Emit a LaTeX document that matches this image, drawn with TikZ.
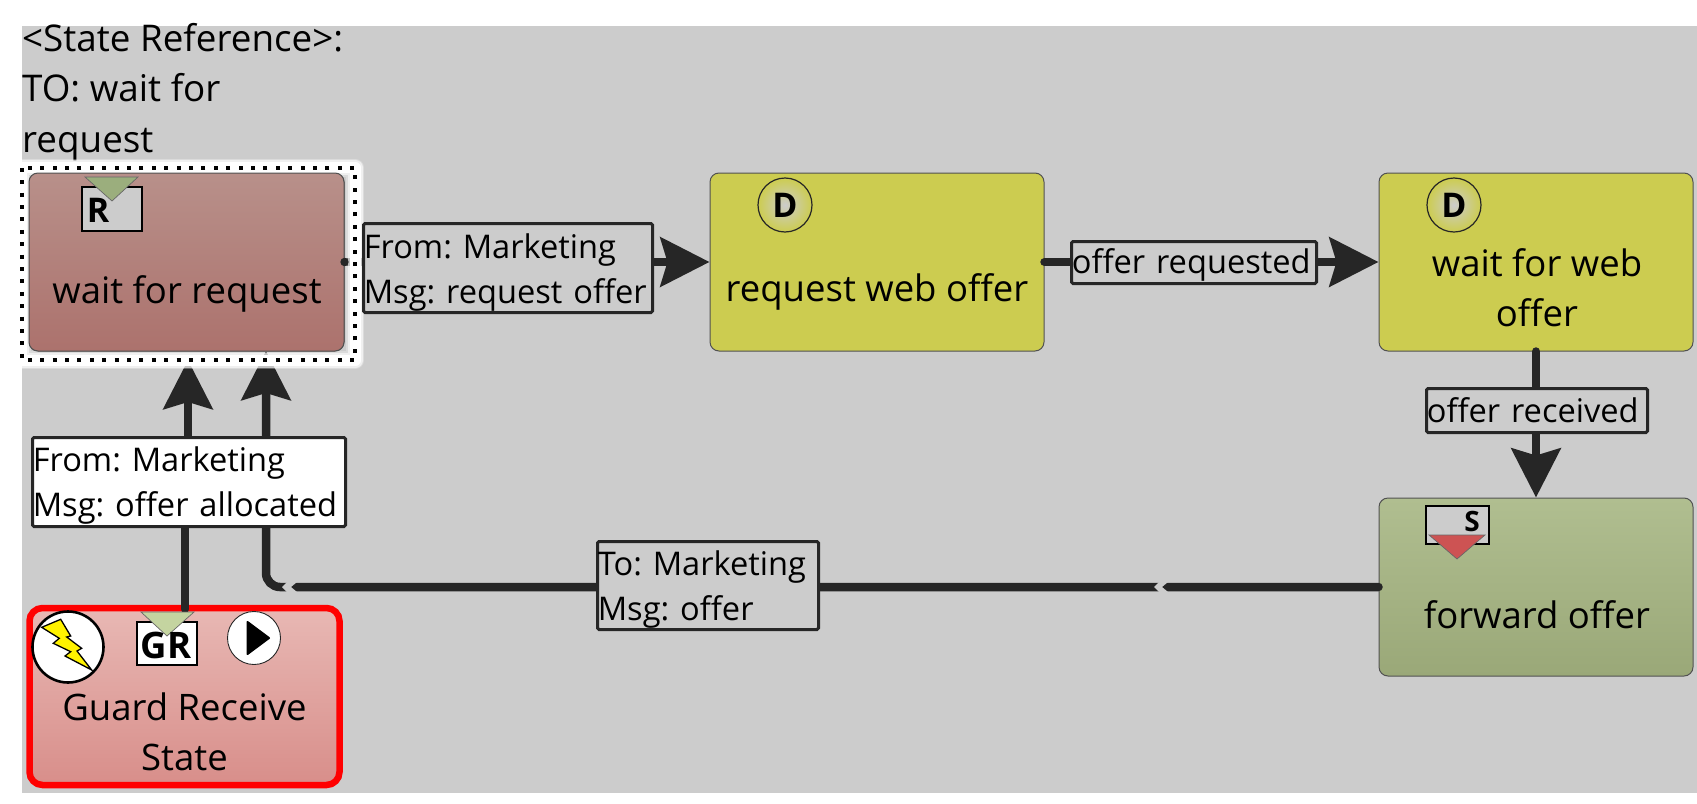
\documentclass[tikz,border=0pt]{standalone}
\usepackage{fontspec}
\setmainfont{Open Sans}
\usetikzlibrary{arrows.meta}
\frenchspacing
\definecolor{ink}{HTML}{262626}
\definecolor{bggrey}{HTML}{CCCCCC}
\definecolor{yel}{HTML}{CCCC50}
\definecolor{waitT}{HTML}{B8908A}
\definecolor{waitB}{HTML}{AC726D}
\definecolor{fwdT}{HTML}{B0BE90}
\definecolor{fwdB}{HTML}{9AA878}
\definecolor{grdT}{HTML}{E8B8B4}
\definecolor{grdB}{HTML}{D88E8A}
\definecolor{triG}{HTML}{9BAE7D}
\definecolor{triL}{HTML}{C4D4A0}
\definecolor{triR}{HTML}{CD5353}
\newcommand{\lift}[1]{\rule{0pt}{#1pt}}
\newcommand{\lline}[1]{\mbox{\hspace*{-1.2pt}#1}}
\tikzset{
  x=1pt,y=-1pt,
  statebox/.style={draw=ink!80,line width=1pt,rounded corners=9pt,inner sep=0pt},
  title/.style={inner sep=0pt,align=center,font=\fontsize{36.5}{50}\selectfont\frenchspacing},
  lbl/.style={draw=ink,fill=bggrey,line width=3pt,rounded corners=1.5pt,inner sep=0pt,align=left,font=\fontsize{32.6}{45}\selectfont\frenchspacing},
  wire/.style={draw=ink,line width=8.5pt,line cap=round},
  tiphead/.style={-{Stealth[length=49pt,width=49pt,inset=7pt]}},
  tagbox/.style={draw=black,line width=1.6pt,inner sep=0pt},
  tri/.style={draw=ink!70,line width=.7pt},
  tagtext/.style={inner sep=0pt,font=\fontsize{34}{34}\selectfont\bfseries},
  dcirc/.style={circle,draw=ink,line width=1.2pt,inner color=bggrey,outer color=yel,minimum size=54pt,inner sep=0pt},
  glowline/.style={white,line join=round},
}
\begin{document}
\begin{tikzpicture}
\useasboundingbox (0,0) rectangle (1697,803);
\fill[white] (0,0) rectangle (1697,803);
\fill[bggrey] (22,26) rectangle (1697,793);
% state reference text
\node[inner sep=0pt,anchor=north west,align=left,font=\fontsize{36.8}{50.5}\selectfont\frenchspacing] (ref) at (22,23) {<State Reference>:\\TO: wait for\\request};
% states
\node[statebox,top color=waitT,bottom color=waitB,minimum width=315pt,minimum height=178pt] (wait) at (186.5,262) {};
\node[statebox,fill=yel,minimum width=334pt,minimum height=178pt] (reqweb) at (877,262) {};
\node[statebox,fill=yel,minimum width=314pt,minimum height=178pt] (waitweb) at (1536,262) {};
\node[statebox,top color=fwdT,bottom color=fwdB,minimum width=314pt,minimum height=178pt] (fwd) at (1536,587) {};
\node[statebox,draw=red,line width=6.5pt,rounded corners=13pt,top color=grdT,bottom color=grdB,minimum width=310pt,minimum height=177pt] (guard) at (184.5,696.5) {};
% connector helper points
\coordinate (waitR) at (266,351);
\coordinate (waitL) at (188,360);
\coordinate (guardS) at (185,609);
\coordinate (k1) at (185,482);
\coordinate (k2) at (188,482);
% connectors
\draw[wire,tiphead] (wait) -- (reqweb);
\draw[wire,tiphead] (reqweb) -- (waitweb);
\draw[wire,tiphead] (waitweb) -- (fwd);
\draw[wire,tiphead,rounded corners=14pt] (fwd.west) -| (waitR);
\draw[wire,tiphead] (guardS) -- (k1) -- (k2) -- (waitL);
% chevrons on long connector
\fill[bggrey] (1159,582) -- (1154,587) -- (1159,592) -- (1168,592) -- (1162,587) -- (1168,582) -- cycle;
\fill[bggrey] (287,582) -- (282,587) -- (287,592) -- (297,592) -- (291,587) -- (297,582) -- cycle;
% selection
\node[minimum width=333pt,minimum height=192pt,inner sep=0pt] (sel) at (188.5,264) {};
\draw[glowline,opacity=.3,line width=18pt] (sel.north west) rectangle (sel.south east);
\draw[glowline,opacity=.6,line width=15pt] (sel.north west) rectangle (sel.south east);
\draw[glowline,line width=11pt] (sel.north west) rectangle (sel.south east);
\node[statebox,top color=waitT,bottom color=waitB,minimum width=315pt,minimum height=178pt] (waitcover) at (186.5,262) {};
\fill[ink] (waitcover.east) circle (4.2);
\draw[black,line width=4pt,dash pattern=on 4pt off 8.4pt] (sel.north west) rectangle (sel.south east);
% state titles
\node[title] (t1) at (187,294) {wait for request};
\node[title] (t2) at (877,292) {request web offer};
\node[title] (t3) at (1537,288) {wait for web\\offer};
\node[title] (t4) at (1537,615) {forward offer};
\node[title] (t5) at (184.5,732) {Guard Receive\\State};
% labels
\node[lbl,text width=286pt,minimum width=289pt,minimum height=89pt] (l1) at (508,268) {\lline{\lift{33}From: Marketing}\\\lline{Msg: request offer}};
\node[lbl,text width=242pt,minimum width=245pt,minimum height=42pt] (l2) at (1194,262.5) {\lline{\lift{30}offer requested}};
\node[lbl,text width=218pt,minimum width=221pt,minimum height=44pt] (l3) at (1537,410.5) {\lline{\lift{24}offer received}};
\node[lbl,text width=218pt,minimum width=221pt,minimum height=88pt] (l4) at (708,585.5) {\lline{\lift{33}To: Marketing}\\\lline{Msg: offer}};
\node[lbl,fill=white,text width=310pt,minimum width=313pt,minimum height=89pt] (l5) at (189,482) {\lline{\lift{31}From: Marketing}\\\lline{Msg: offer allocated}};
% R tag
\node[tagbox,fill=bggrey,minimum width=60pt,minimum height=44pt] (rtag) at (112,209) {};
\fill[triG,tri] (85,177) -- (138,177) -- (112,201) -- cycle;
\node[tagtext] (rtxt) at (98,210) {R};
% GR tag
\node[tagbox,fill=white,minimum width=60pt,minimum height=43pt] (grtag) at (167,643.5) {};
\fill[triL,tri] (141,612) -- (194,612) -- (167,636) -- cycle;
\node[tagtext,font=\fontsize{36.5}{36.5}\selectfont\bfseries] (grtxt) at (166,645) {GR};
% S tag
\node[tagbox,fill=bggrey,minimum width=63pt,minimum height=38pt] (stag) at (1457.5,525) {};
\fill[triR,tri] (1429,535) -- (1485,535) -- (1457,559) -- cycle;
\node[tagtext,font=\fontsize{28}{28}\selectfont\bfseries] (stxt) at (1472,521) {S};
% D markers
\node[dcirc,tagtext] (d1) at (785,205) {D};
\node[dcirc,tagtext] (d2) at (1454,205) {D};
% lightning
\node[circle,draw=black,fill=white,line width=2.6pt,minimum size=71pt,inner sep=0pt] (bolt) at (68,647) {};
\filldraw[fill=yellow,draw=black,line width=1.3pt,line join=miter] (41.7,627.3) -- (60.7,619.3) -- (70.7,636) -- (66.7,637) -- (81.7,648.3) -- (77,651) -- (91.7,670) -- (65,656) -- (70.7,651.7) -- (53.3,643.3) -- (59.3,638.3) -- cycle;
% play
\node[circle,draw=ink,fill=white,line width=.9pt,minimum size=53pt,inner sep=0pt] (play) at (254,638) {};
\filldraw[black,line width=2pt,line join=round] (247.5,622) -- (269,638) -- (247.5,654) -- cycle;
\end{tikzpicture}
\end{document}
